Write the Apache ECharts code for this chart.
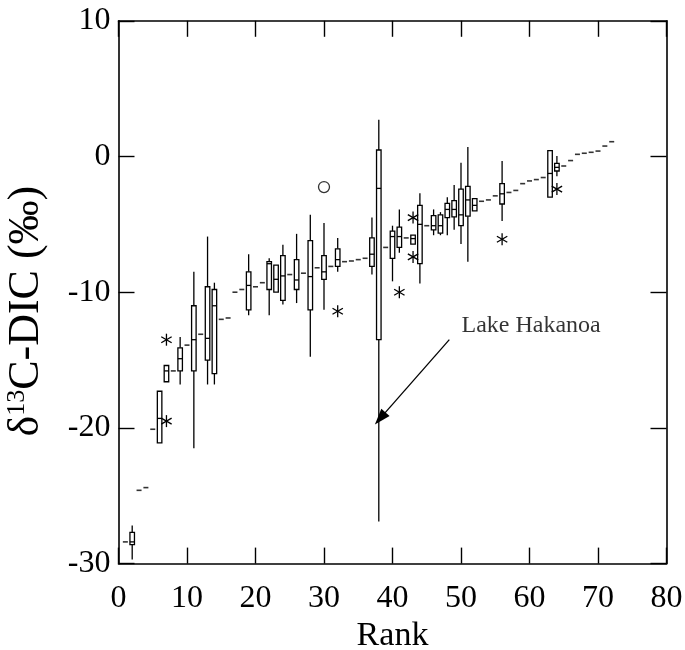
<!DOCTYPE html>
<html>
<head>
<meta charset="utf-8">
<script src="https://cdn.jsdelivr.net/npm/echarts@6/dist/echarts.min.js"></script>
<style>html,body{margin:0;padding:0;background:#fff;}#c{width:685px;height:650px;}</style>
</head>
<body>
<div id="c"></div>
<script>
// Tick labels
const xTicks = [0, 10, 20, 30, 40, 50, 60, 70, 80];
const yTicks = [-30, -20, -10, 0, 10];

// Single-value ranks (median dash only)
const dashRanks = [1, 3, 4, 5, 8, 10, 12, 15, 16, 17, 18, 20, 21, 25, 27, 29, 31, 33, 34, 35, 36, 39, 42, 45, 53, 54, 55, 57, 58, 59, 60, 61, 62, 65, 66, 67, 68, 69, 70, 71, 72];
const dashValues = [-28.4, -24.6, -24.4, -20.1, -15.8, -13.9, -13.1, -12.0, -11.9, -10.0, -9.8, -9.6, -9.3, -8.7, -8.6, -8.2, -8.1, -7.75, -7.7, -7.6, -7.5, -6.7, -6.0, -5.1, -3.3, -3.2, -2.9, -2.65, -2.5, -2.0, -1.8, -1.7, -1.55, -0.7, -0.3, 0.16, 0.24, 0.31, 0.4, 0.77, 1.09];

// Box ranks and five-number summaries
const boxRanks = [2, 6, 7, 9, 11, 13, 14, 19, 22, 23, 24, 26, 28, 30, 32, 37, 38, 40, 41, 43, 44, 46, 47, 48, 49, 50, 51, 52, 56, 63, 64];
const boxMin =    [-29.7, -21.1, -16.6, -16.8, -21.5, -16.8, -16.8, -11.7, -11.7, -10.0, -10.9, -10.8, -14.75, -11.3, -8.5, -8.7, -26.9, -9.2, -7.1, -6.45, -9.35, -5.8, -5.8, -5.8, -5.4, -6.45, -7.75, -4.0, -4.75, -3.0, -1.45];
const boxQ1 =     [-28.6, -21.1, -16.6, -15.8, -15.8, -15.0, -16.0, -11.3, -9.8, -10.0, -10.6, -9.8, -11.3, -9.05, -8.1, -8.1, -13.5, -7.5, -6.7, -6.45, -7.9, -5.4, -5.65, -4.5, -4.45, -5.1, -4.4, -4.0, -3.5, -3.0, -1.07];
const boxMedian = [-28.4, -19.3, -15.8, -14.9, -13.5, -13.4, -11.0, -9.5, -7.9, -9.05, -8.8, -9.1, -8.85, -8.5, -7.6, -7.2, -2.35, -5.9, -5.9, -6.05, -5.0, -5.1, -5.1, -3.9, -3.9, -4.3, -3.2, -3.6, -2.75, -1.25, -0.8];
const boxQ3 =     [-27.7, -17.3, -15.4, -14.1, -11.0, -9.6, -9.8, -8.5, -7.75, -8.0, -7.3, -7.6, -6.2, -7.3, -6.8, -6.0, 0.48, -5.5, -5.2, -5.8, -3.6, -4.35, -4.3, -3.45, -3.25, -2.4, -2.2, -3.1, -2.0, 0.43, -0.5];
const boxMax =    [-27.2, -17.3, -15.4, -13.3, -8.5, -5.9, -9.3, -7.2, -7.5, -8.0, -6.5, -5.7, -4.3, -4.9, -6.0, -4.5, 2.7, -5.1, -3.9, -5.8, -2.7, -3.9, -4.1, -3.0, -2.1, -0.46, 0.7, -3.1, -0.33, 0.43, 0.04];

// Outliers
const starRanks = [7, 7, 32, 41, 43, 43, 56, 64];
const starValues = [-13.5, -19.5, -11.4, -10.0, -4.5, -7.4, -6.1, -2.4];
const circleRanks = [30];
const circleValues = [-2.25];

// Annotation
const noteText = 'Lake Hakanoa';
const notePos = [50.0, -12.5];
const arrowFrom = [48.3, -13.5];
const arrowTo = [38.2, -19.3];

const FONT = 'Liberation Serif';

const boxData = boxRanks.map((r, i) => [r, boxMin[i], boxQ1[i], boxMedian[i], boxQ3[i], boxMax[i]]);
const dashData = dashRanks.map((r, i) => [r, dashValues[i]]);
const starData = starRanks.map((r, i) => [r, starValues[i]]);
const circleData = circleRanks.map((r, i) => [r, circleValues[i]]);

const chart = echarts.init(document.getElementById('c'), null, {renderer: 'canvas'});

function renderBox(params, api) {
  const r = api.value(0);
  const pMin = api.coord([r, api.value(1)]);
  const pQ1 = api.coord([r, api.value(2)]);
  const pMed = api.coord([r, api.value(3)]);
  const pQ3 = api.coord([r, api.value(4)]);
  const pMax = api.coord([r, api.value(5)]);
  const hw = api.size([0.66, 0])[0] / 2;
  const x = pQ1[0];
  const st = {stroke: '#000', lineWidth: 1.3, fill: 'none'};
  return {
    type: 'group',
    children: [
      {type: 'line', shape: {x1: x, y1: pMin[1], x2: x, y2: pQ1[1]}, style: st},
      {type: 'line', shape: {x1: x, y1: pQ3[1], x2: x, y2: pMax[1]}, style: st},
      {type: 'rect', shape: {x: x - hw, y: pQ3[1], width: 2 * hw, height: pQ1[1] - pQ3[1]}, style: {stroke: '#000', lineWidth: 1.3, fill: '#fff'}},
      {type: 'line', shape: {x1: x - hw, y1: pMed[1], x2: x + hw, y2: pMed[1]}, style: st}
    ]
  };
}

function renderStar(params, api) {
  const p = api.coord([api.value(0), api.value(1)]);
  const L = 6;
  const st = {stroke: '#000', lineWidth: 1.3};
  const c = Math.cos(Math.PI / 6) * L, s = Math.sin(Math.PI / 6) * L;
  return {
    type: 'group',
    children: [
      {type: 'line', shape: {x1: p[0], y1: p[1] - L, x2: p[0], y2: p[1] + L}, style: st},
      {type: 'line', shape: {x1: p[0] - c, y1: p[1] - s, x2: p[0] + c, y2: p[1] + s}, style: st},
      {type: 'line', shape: {x1: p[0] - c, y1: p[1] + s, x2: p[0] + c, y2: p[1] - s}, style: st}
    ]
  };
}

const axisLine = {show: true, onZero: false, lineStyle: {color: '#000', width: 1.6}};
const axisTick = {show: true, inside: true, length: 16, lineStyle: {color: '#000', width: 1.4}};

const option = {
  animation: false,
  backgroundColor: '#fff',
  grid: {left: 118.5, right: 18.5, top: 20.8, bottom: 86.4, containLabel: false, outerBoundsMode: 'none'},
  xAxis: [
    {type: 'value', position: 'bottom', min: xTicks[0], max: xTicks[xTicks.length - 1], interval: 10,
     axisLine, axisTick, splitLine: {show: false},
     axisLabel: {color: '#000', fontFamily: FONT, fontSize: 32, margin: 19},
     name: 'Rank', nameLocation: 'middle', nameGap: 55,
     nameTextStyle: {color: '#000', fontFamily: FONT, fontSize: 34}},
    {type: 'value', position: 'top', min: xTicks[0], max: xTicks[xTicks.length - 1], interval: 10,
     axisLine, axisTick, splitLine: {show: false}, axisLabel: {show: false}}
  ],
  yAxis: [
    {type: 'value', position: 'left', min: yTicks[0], max: yTicks[yTicks.length - 1], interval: 10,
     axisLine, axisTick, splitLine: {show: false},
     axisLabel: {color: '#000', fontFamily: FONT, fontSize: 32, margin: 8, padding: [10, 0, 0, 0]},
     name: '{d|δ}{s|13}{d|C-DIC (‰)}', nameLocation: 'middle', nameGap: 70, nameRotate: 90,
     nameTextStyle: {color: '#000', fontFamily: FONT, fontSize: 44, padding: [0, 38, 0, 0],
       rich: {d: {fontFamily: FONT, fontSize: 44, color: '#000', verticalAlign: 'bottom'},
              s: {fontFamily: FONT, fontSize: 26, color: '#000', verticalAlign: 'top'}}}},
    {type: 'value', position: 'right', min: yTicks[0], max: yTicks[yTicks.length - 1], interval: 10,
     axisLine, axisTick, splitLine: {show: false}, axisLabel: {show: false}}
  ],
  series: [
    {type: 'scatter', name: 'single', data: dashData, symbol: 'rect', symbolSize: [5, 1.6],
     itemStyle: {color: '#000'}, z: 2, silent: true},
    {type: 'custom', name: 'boxes', data: boxData, renderItem: renderBox, z: 3, silent: true,
     encode: {x: 0, y: [1, 2, 3, 4, 5]}},
    {type: 'custom', name: 'stars', data: starData, renderItem: renderStar, z: 4, silent: true,
     encode: {x: 0, y: 1}},
    {type: 'scatter', name: 'circles', data: circleData, symbol: 'circle', symbolSize: 11,
     itemStyle: {color: 'rgba(255,255,255,0)', borderColor: '#000', borderWidth: 1.3}, z: 4, silent: true},
    {type: 'scatter', name: 'note', data: [notePos], symbolSize: 1, itemStyle: {color: 'rgba(0,0,0,0)'},
     label: {show: true, position: 'right', distance: 0, formatter: noteText,
             color: '#000', fontFamily: FONT, fontSize: 24},
     silent: true, z: 5,
     markLine: {silent: true, animation: false, symbol: ['none', 'triangle'], symbolSize: [11, 16],
       label: {show: false},
       lineStyle: {color: '#000', width: 1.3, type: 'solid'},
       data: [[{coord: arrowFrom}, {coord: arrowTo}]]}}
  ]
};
chart.setOption(option);
</script>
</body>
</html>
